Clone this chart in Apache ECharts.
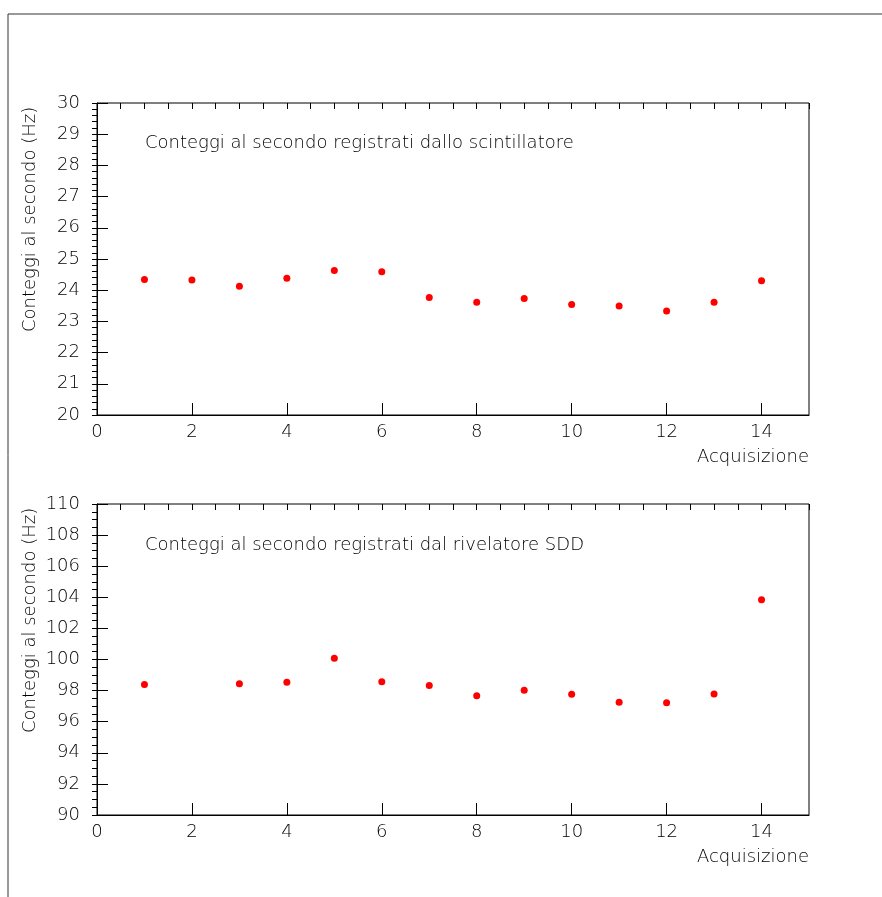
<!DOCTYPE html>
<html>
<head>
<meta charset="utf-8">
<script src="https://cdn.jsdelivr.net/npm/echarts@6/dist/echarts.min.js"></script>
<style>
  html, body { margin: 0; padding: 0; background: #fff; }
  #chart { width: 882px; height: 897px; }
</style>
</head>
<body>
<div id="chart"></div>
<script>
// acquisizioni (asse x)
const acqScint = [1, 2, 3, 4, 5, 6, 7, 8, 9, 10, 11, 12, 13, 14];
const rateScint = [24.34, 24.33, 24.13, 24.38, 24.63, 24.59, 23.77, 23.61, 23.73, 23.54, 23.49, 23.33, 23.61, 24.30];

// SDD: manca l'acquisizione 2
const acqSdd = [1, 3, 4, 5, 6, 7, 8, 9, 10, 11, 12, 13, 14];
const rateSdd = [98.40, 98.44, 98.53, 100.08, 98.57, 98.32, 97.67, 98.02, 97.76, 97.25, 97.22, 97.78, 103.85];

const titleTop = 'Conteggi al secondo registrati dallo scintillatore';
const titleBottom = 'Conteggi al secondo registrati dal rivelatore SDD';
const yName = 'Conteggi al secondo (Hz)';
const xName = 'Acquisizione';

const FONT = '"DejaVu Sans", sans-serif';
const TXT = '200 18px ' + FONT;
const chart = echarts.init(document.getElementById('chart'));

const zip = (xs, ys) => xs.map((x, i) => [x, ys[i]]);

// asse principale (etichette + tacche lunghe)
const majorAxis = (grid, min, max, interval, len, isY) => ({
  type: 'value',
  gridIndex: grid,
  min, max, interval,
  axisLine: { show: true, lineStyle: { color: '#000', width: 1 } },
  axisTick: { show: true, inside: true, length: len, lineStyle: { color: '#000' } },
  axisLabel: {
    show: true,
    color: '#000',
    fontFamily: FONT,
    fontWeight: 200,
    fontSize: 18,
    margin: isY ? 17 : 8,
    showMaxLabel: isY,
  },
  splitLine: { show: false },
});

// asse secondario solo per le tacche minori
const minorAxis = (grid, min, max, interval, len) => ({
  type: 'value',
  gridIndex: grid,
  min, max, interval,
  axisLine: { show: false },
  axisTick: { show: true, inside: true, length: len, lineStyle: { color: '#000' } },
  axisLabel: { show: false },
  splitLine: { show: false },
});

const dots = { color: '#ff0000', opacity: 1 };

const option = {
  backgroundColor: '#fff',
  animation: false,
  grid: [
    { left: 97, top: 103, width: 712, height: 312, show: true, borderColor: '#000', borderWidth: 1 },
    { left: 97, top: 504, width: 712, height: 311, show: true, borderColor: '#000', borderWidth: 1 },
  ],
  xAxis: [
    majorAxis(0, 0, 15, 2, 12, false),
    minorAxis(0, 0, 15, 0.5, 6),
    majorAxis(1, 0, 15, 2, 12, false),
    minorAxis(1, 0, 15, 0.5, 6),
  ],
  yAxis: [
    majorAxis(0, 20, 30, 1, 11, true),
    minorAxis(0, 20, 30, 0.2, 5),
    majorAxis(1, 90, 110, 2, 11, true),
    minorAxis(1, 90, 110, 0.5, 5),
  ],
  series: [
    {
      type: 'scatter',
      xAxisIndex: 0, yAxisIndex: 0,
      data: zip(acqScint, rateScint),
      symbol: 'circle', symbolSize: 7,
      itemStyle: dots,
    },
    {
      type: 'scatter',
      xAxisIndex: 2, yAxisIndex: 2,
      data: zip(acqSdd, rateSdd),
      symbol: 'circle', symbolSize: 7,
      itemStyle: dots,
    },
  ],
  graphic: [
    // cornice della pagina
    { type: 'line', shape: { x1: 8, y1: 14, x2: 882, y2: 14 }, style: { stroke: '#333', lineWidth: 1 } },
    { type: 'line', shape: { x1: 8, y1: 14, x2: 8, y2: 897 }, style: { stroke: '#333', lineWidth: 1 } },
    { type: 'text', x: 145, y: 143, style: { text: titleTop, font: TXT, fill: '#000', textVerticalAlign: 'middle' } },
    { type: 'text', x: 145, y: 545, style: { text: titleBottom, font: TXT, fill: '#000', textVerticalAlign: 'middle' } },
    { type: 'text', x: 30, y: 332, rotation: Math.PI / 2, style: { text: yName, font: TXT, fill: '#000', textAlign: 'left', textVerticalAlign: 'middle' } },
    { type: 'text', x: 30, y: 733, rotation: Math.PI / 2, style: { text: yName, font: TXT, fill: '#000', textAlign: 'left', textVerticalAlign: 'middle' } },
    { type: 'text', x: 809, y: 457, style: { text: xName, font: TXT, fill: '#000', textAlign: 'right', textVerticalAlign: 'middle' } },
    { type: 'text', x: 809, y: 857, style: { text: xName, font: TXT, fill: '#000', textAlign: 'right', textVerticalAlign: 'middle' } },
  ],
};

chart.setOption(option);
window.addEventListener('resize', () => chart.resize());
</script>
</body>
</html>
